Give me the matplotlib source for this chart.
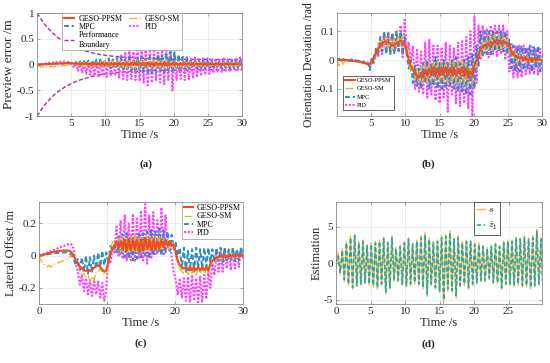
import numpy as np
import matplotlib
matplotlib.use("Agg")
import matplotlib.pyplot as plt

plt.rcParams['font.family'] = ['Liberation Serif', 'DejaVu Serif']
plt.rcParams['mathtext.fontset'] = 'cm'
plt.rcParams['axes.unicode_minus'] = False

# ---------------- data ----------------
t = np.linspace(0, 30, 101)  # sample times (0.3 s grid)

# panel (a) preview error
pb_t = [0, 1, 2, 3, 4, 5, 6, 7, 8, 9, 10, 12, 14, 17, 20, 25, 30]
pb_up = [1.0, 0.8, 0.65, 0.53, 0.44, 0.37, 0.31, 0.27, 0.23, 0.2, 0.18, 0.15, 0.13, 0.115, 0.105, 0.1, 0.1]
pb_lo = [-1.0, -0.8, -0.65, -0.53, -0.44, -0.37, -0.31, -0.27, -0.23, -0.2, -0.18, -0.15, -0.13, -0.115, -0.105, -0.1, -0.1]

a_ppsm = [0.0, 0.002, 0.004, 0.006, 0.008, 0.01, 0.012, 0.014, 0.016, 0.018,
          0.02, 0.022, 0.024, 0.026, 0.027, 0.028, 0.028, 0.026, 0.022, 0.018,
          0.025, 0.005, 0.03, 0.005, 0.03, 0.0, 0.03, 0.0, 0.028, 0.0,
          0.03, 0.0, 0.03, -0.005, 0.03, -0.005, 0.03, 0.0, 0.03, 0.0,
          0.03, -0.005, 0.035, -0.005, 0.035, -0.01, 0.03, -0.005, 0.035, -0.005,
          0.035, -0.01, 0.03, -0.01, 0.035, -0.005, 0.03, -0.01, 0.035, -0.005,
          0.035, -0.01, 0.04, -0.01, 0.035, -0.005, 0.03, -0.005, 0.03, 0.0,
          0.03, 0.0, 0.025, 0.0, 0.028, 0.0, 0.025, 0.0, 0.025, 0.0,
          0.025, 0.0, 0.022, 0.002, 0.022, 0.002, 0.02, 0.002, 0.02, 0.002,
          0.02, 0.002, 0.02, 0.002, 0.02, 0.002, 0.02, 0.002, 0.02, 0.002,
          0.015]
a_sm = [0.0, -0.03, -0.05, -0.04, -0.06, -0.04, -0.05, -0.03, -0.05, -0.03,
        -0.04, -0.02, -0.03, -0.01, -0.02, 0.0, 0.0, 0.02, 0.0, 0.03,
        -0.02, 0.04, -0.03, 0.05, -0.03, 0.05, -0.04, 0.05, -0.04, 0.06,
        -0.04, 0.06, -0.05, 0.07, -0.05, 0.06, -0.06, 0.07, -0.06, 0.08,
        -0.07, 0.08, -0.06, 0.09, -0.07, 0.08, -0.07, 0.1, -0.08, 0.09,
        -0.08, 0.1, -0.07, 0.09, -0.08, 0.1, -0.07, 0.09, -0.08, 0.1,
        -0.07, 0.09, -0.08, 0.1, -0.07, 0.08, -0.06, 0.07, -0.06, 0.07,
        -0.05, 0.06, -0.05, 0.06, -0.05, 0.05, -0.04, 0.05, -0.04, 0.05,
        -0.04, 0.05, -0.04, 0.05, -0.04, 0.04, -0.03, 0.04, -0.03, 0.04,
        -0.03, 0.04, -0.03, 0.04, -0.03, 0.04, -0.03, 0.04, -0.03, 0.04,
        -0.02]
a_mpc = [0.0, 0.0, 0.005, 0.01, 0.01, 0.015, 0.02, 0.02, 0.02, 0.02,
         0.02, 0.02, 0.02, 0.02, 0.02, 0.02, 0.025, 0.03, 0.0, 0.05,
         0.0, 0.06, -0.01, 0.07, -0.01, 0.08, -0.02, 0.08, -0.03, 0.1,
         -0.04, 0.12, -0.05, 0.1, -0.06, 0.12, -0.07, 0.1, -0.08, 0.12,
         -0.09, 0.14, -0.12, 0.1, -0.1, 0.15, -0.12, 0.12, -0.1, 0.14,
         -0.12, 0.16, -0.14, 0.12, -0.16, 0.15, -0.17, 0.14, -0.15, 0.2,
         -0.13, 0.18, -0.15, 0.22, -0.12, 0.25, -0.14, 0.24, -0.1, 0.2,
         -0.1, 0.15, -0.08, 0.1, -0.08, 0.1, -0.07, 0.09, -0.07, 0.08,
         -0.07, 0.08, -0.06, 0.08, -0.07, 0.07, -0.06, 0.07, -0.06, 0.07,
         -0.07, 0.08, -0.06, 0.07, -0.07, 0.08, -0.06, 0.07, -0.06, 0.08,
         -0.05]
a_pid = [0.0, 0.005, 0.01, 0.015, 0.02, 0.025, 0.03, 0.035, 0.04, 0.045,
         0.05, 0.055, 0.06, 0.06, 0.06, 0.05, 0.04, 0.0, -0.06, 0.03,
         -0.12, 0.04, -0.15, 0.05, -0.18, 0.04, -0.2, 0.05, -0.22, 0.06,
         -0.25, 0.05, -0.22, 0.08, -0.24, 0.1, -0.2, 0.1, -0.22, 0.15,
         -0.25, 0.2, -0.28, 0.25, -0.3, 0.3, -0.28, 0.25, -0.3, 0.28,
         -0.32, 0.3, -0.35, 0.32, -0.4, 0.3, -0.35, 0.3, -0.3, 0.3,
         -0.35, 0.32, -0.38, 0.35, -0.3, 0.45, -0.5, 0.2, -0.3, 0.15,
         -0.28, 0.15, -0.3, 0.15, -0.28, 0.12, -0.25, 0.14, -0.25, 0.12,
         -0.22, 0.12, -0.2, 0.12, -0.18, 0.1, -0.16, 0.12, -0.15, 0.1,
         -0.14, 0.12, -0.12, 0.1, -0.12, 0.12, -0.1, 0.12, -0.1, 0.14,
         -0.08]

# panel (b) orientation deviation
b_ppsm = [0.0, 0.0, 0.0, 0.0, 0.0, 0.0, -0.002, -0.002, -0.003, -0.004,
          -0.005, -0.006, -0.008, -0.01, -0.012, -0.014, -0.015, -0.01, 0.01, 0.025,
          0.04, 0.05, 0.058, 0.063, 0.065, 0.06, 0.055, 0.05, 0.052, 0.058,
          0.063, 0.066, 0.064, 0.055, 0.03, 0.0, -0.02, -0.035, -0.045, -0.055,
          -0.06, -0.045, -0.06, -0.035, -0.055, -0.03, -0.05, -0.025, -0.055, -0.03,
          -0.055, -0.025, -0.05, -0.025, -0.055, -0.03, -0.05, -0.025, -0.055, -0.03,
          -0.05, -0.025, -0.055, -0.03, -0.06, -0.04, -0.055, -0.02, 0.0, 0.02,
          0.035, 0.045, 0.05, 0.058, 0.052, 0.062, 0.055, 0.065, 0.056, 0.066,
          0.056, 0.066, 0.06, 0.058, 0.045, 0.03, 0.02, 0.012, 0.01, 0.005,
          0.01, 0.0, 0.008, -0.002, 0.006, -0.002, 0.005, -0.002, 0.004, 0.0,
          0.0]
b_sm = [0.0, -0.02, 0.0, -0.015, 0.0, -0.005, 0.0, -0.005, -0.002, -0.005,
        -0.005, -0.008, -0.01, -0.01, -0.012, -0.015, -0.02, -0.01, 0.02, 0.01,
        0.06, 0.03, 0.08, 0.04, 0.085, 0.04, 0.08, 0.03, 0.08, 0.04,
        0.09, 0.05, 0.085, 0.04, 0.05, -0.01, -0.04, -0.02, -0.07, -0.03,
        -0.08, -0.02, -0.085, -0.01, -0.08, -0.005, -0.075, 0.0, -0.08, -0.005,
        -0.08, 0.0, -0.075, -0.005, -0.085, 0.0, -0.08, 0.0, -0.085, 0.0,
        -0.08, 0.0, -0.085, -0.01, -0.09, -0.02, -0.08, 0.0, -0.02, 0.04,
        0.01, 0.07, 0.03, 0.08, 0.035, 0.09, 0.035, 0.09, 0.04, 0.09,
        0.035, 0.09, 0.04, 0.08, 0.02, 0.05, 0.0, 0.03, -0.01, 0.02,
        -0.01, 0.02, -0.01, 0.015, -0.01, 0.015, -0.008, 0.012, -0.008, 0.01,
        0.0]
b_mpc = [0.0, 0.005, -0.002, 0.004, -0.002, 0.003, -0.003, 0.002, -0.004, 0.0,
         -0.005, 0.0, -0.008, -0.005, -0.012, -0.008, -0.035, 0.01, -0.01, 0.04,
         0.02, 0.08, 0.03, 0.1, 0.02, 0.09, 0.02, 0.095, 0.02, 0.1,
         0.03, 0.1, 0.02, 0.08, 0.02, -0.03, 0.0, -0.08, -0.02, -0.09,
         -0.03, -0.1, -0.01, -0.08, 0.0, -0.1, -0.01, -0.09, 0.01, -0.1,
         -0.01, -0.1, 0.0, -0.1, -0.01, -0.09, 0.0, -0.1, 0.01, -0.11,
         -0.01, -0.11, 0.0, -0.12, 0.01, -0.12, 0.02, -0.1, 0.05, -0.02,
         0.1, 0.01, 0.1, 0.02, 0.1, 0.02, 0.1, 0.03, 0.1, 0.03,
         0.1, 0.03, 0.1, 0.02, 0.07, -0.03, 0.05, -0.04, 0.05, -0.04,
         0.05, -0.035, 0.045, -0.03, 0.05, -0.04, 0.045, -0.03, 0.05, -0.04,
         0.0]
b_pid = [0.0, 0.002, 0.0, 0.002, 0.0, 0.001, -0.002, 0.0, -0.003, -0.002,
         -0.005, -0.004, -0.007, -0.008, -0.01, -0.012, -0.014, 0.0, 0.0, 0.035,
         0.01, 0.07, 0.02, 0.09, 0.03, 0.095, 0.03, 0.09, 0.04, 0.1,
         0.03, 0.12, 0.01, 0.14, 0.02, 0.06, -0.01, 0.05, -0.1, 0.04,
         -0.11, 0.03, -0.12, 0.06, -0.13, 0.07, -0.12, 0.05, -0.14, 0.05,
         -0.15, 0.04, -0.13, 0.06, -0.18, 0.05, -0.12, 0.04, -0.15, 0.06,
         -0.16, 0.07, -0.15, 0.08, -0.17, 0.1, -0.195, 0.15, -0.08, 0.12,
         0.0, 0.12, 0.02, 0.11, 0.01, 0.12, 0.02, 0.12, 0.01, 0.12,
         0.02, 0.12, 0.0, 0.1, -0.04, 0.06, -0.06, 0.05, -0.06, 0.05,
         -0.06, 0.05, -0.05, 0.04, -0.05, 0.045, -0.05, 0.04, -0.05, 0.045,
         -0.04]

# panel (c) lateral offset
c_ppsm = [0.0, 0.002, 0.005, 0.008, 0.012, 0.016, 0.02, 0.023, 0.026, 0.028,
          0.03, 0.031, 0.032, 0.032, 0.032, 0.03, 0.02, 0.0, -0.03, -0.05,
          -0.065, -0.08, -0.09, -0.095, -0.09, -0.095, -0.085, -0.075, -0.065, -0.06,
          -0.07, -0.085, -0.1, -0.09, -0.04, 0.01, 0.04, 0.06, 0.09, 0.04,
          0.09, 0.04, 0.1, 0.03, 0.1, 0.03, 0.1, 0.04, 0.1, 0.03,
          0.1, 0.03, 0.11, 0.04, 0.1, 0.03, 0.1, 0.04, 0.09, 0.04,
          0.1, 0.05, 0.1, 0.06, 0.09, 0.06, 0.07, 0.02, -0.03, -0.06,
          -0.07, -0.08, -0.07, -0.09, -0.07, -0.09, -0.07, -0.09, -0.07, -0.09,
          -0.07, -0.09, -0.07, -0.09, -0.05, -0.03, -0.02, -0.01, -0.01, 0.0,
          -0.01, 0.005, -0.01, 0.005, -0.005, 0.005, -0.005, 0.005, -0.005, 0.005,
          0.0]
c_sm = [0.0, -0.03, -0.05, -0.06, -0.07, -0.06, -0.07, -0.06, -0.05, -0.045,
        -0.04, -0.035, -0.03, -0.025, -0.02, -0.01, 0.0, 0.01, -0.02, -0.06,
        -0.09, -0.12, -0.11, -0.14, -0.12, -0.16, -0.13, -0.15, -0.1, -0.1,
        -0.08, -0.1, -0.12, -0.11, -0.02, 0.05, 0.08, 0.1, 0.06, 0.12,
        0.02, 0.12, 0.03, 0.11, 0.02, 0.13, 0.03, 0.12, 0.02, 0.12,
        0.03, 0.11, 0.02, 0.12, 0.03, 0.11, 0.04, 0.12, 0.03, 0.12,
        0.04, 0.11, 0.05, 0.1, 0.04, 0.09, 0.06, 0.0, -0.05, -0.08,
        -0.1, -0.11, -0.09, -0.12, -0.08, -0.11, -0.08, -0.12, -0.08, -0.11,
        -0.08, -0.12, -0.08, -0.11, -0.06, -0.04, -0.03, 0.0, -0.02, 0.01,
        -0.02, 0.01, -0.02, 0.015, -0.015, 0.015, -0.015, 0.01, -0.015, 0.01,
        0.0]
c_mpc = [0.0, 0.002, 0.004, 0.006, 0.008, 0.01, 0.012, 0.014, 0.015, 0.016,
         0.017, 0.018, 0.02, 0.02, 0.02, 0.015, 0.0, -0.02, -0.06, -0.02,
         -0.09, -0.01, -0.1, 0.0, -0.11, -0.01, -0.1, 0.0, -0.08, 0.02,
         -0.07, 0.03, -0.06, 0.02, -0.05, 0.06, 0.03, 0.08, 0.02, 0.12,
         0.0, 0.13, -0.01, 0.14, -0.02, 0.13, -0.03, 0.12, -0.02, 0.15,
         -0.01, 0.14, 0.0, 0.15, -0.02, 0.16, 0.0, 0.15, 0.01, 0.17,
         0.0, 0.16, 0.02, 0.15, 0.03, 0.13, 0.04, 0.08, 0.0, 0.05,
         -0.08, 0.05, -0.1, 0.03, -0.09, 0.04, -0.1, 0.05, -0.08, 0.04,
         -0.08, 0.05, -0.07, 0.05, -0.04, 0.04, -0.04, 0.05, -0.03, 0.05,
         -0.04, 0.05, -0.04, 0.04, -0.03, 0.05, -0.03, 0.04, -0.03, 0.05,
         0.0]
c_pid = [0.0, 0.005, 0.01, 0.015, 0.02, 0.025, 0.03, 0.035, 0.04, 0.045,
         0.05, 0.055, 0.06, 0.065, 0.07, 0.075, 0.07, 0.04, -0.04, -0.1,
         -0.18, -0.12, -0.22, -0.14, -0.24, -0.15, -0.25, -0.15, -0.24, -0.16,
         -0.26, -0.17, -0.28, -0.2, -0.02, -0.05, 0.05, 0.02, 0.18, 0.0,
         0.22, -0.02, 0.25, -0.03, 0.2, -0.03, 0.26, -0.04, 0.24, -0.02,
         0.28, -0.03, 0.32, -0.05, 0.25, -0.02, 0.27, 0.0, 0.22, 0.02,
         0.3, 0.0, 0.25, 0.05, 0.08, 0.0, -0.1, -0.15, -0.24, -0.14,
         -0.26, -0.14, -0.28, -0.13, -0.29, -0.12, -0.28, -0.14, -0.3, -0.13,
         -0.29, -0.12, -0.27, -0.1, -0.2, -0.05, -0.12, 0.02, -0.1, 0.03,
         -0.1, 0.04, -0.08, 0.03, -0.09, 0.04, -0.08, 0.03, -0.07, 0.05,
         -0.02]

# panel (d) estimation
d_s = [0.0, 1.5, -1.5, 2.0, -2.5, 3.0, -3.0, 3.8, -3.5, 4.0,
       -3.2, 3.0, -3.0, 3.2, -2.8, 2.6, -3.0, 2.8, -3.2, 3.0,
       -3.5, 3.2, -3.0, 3.6, -4.2, 3.0, -3.5, 3.8, -2.5, 2.2,
       -2.5, 2.5, -3.0, 3.0, -3.2, 3.5, -3.0, 2.8, -2.8, 3.2,
       -3.0, 3.8, -3.5, 4.2, -4.5, 3.5, -3.0, 3.0, -3.5, 3.2,
       -4.0, 3.8, -5.5, 4.0, -3.8, 4.5, -4.0, 3.5, -4.8, 3.8,
       -3.2, 3.0, -3.0, 3.2, -3.5, 3.2, -3.0, 2.8, -2.8, 2.8,
       -2.5, 2.5, -2.5, 2.2, -2.2, 2.5, -2.8, 2.8, -2.8, 2.5,
       -3.5, 3.0, -3.0, 3.2, -3.0, 3.2, -3.2, 3.6, -3.0, 3.5,
       -3.2, 3.8, -3.2, 3.5, -3.5, 3.8, -3.2, 4.7, -3.0, 3.5,
       -4.5]
d_z1 = [0.0, 1.0, -1.2, 1.8, -2.2, 2.8, -2.8, 3.5, -3.3, 3.8,
        -3.0, 2.8, -2.8, 3.0, -2.6, 2.4, -2.8, 2.6, -3.0, 2.8,
        -3.3, 3.0, -2.8, 3.4, -3.9, 2.8, -3.3, 3.5, -2.3, 2.0,
        -2.3, 2.3, -2.8, 2.8, -3.0, 3.3, -2.8, 2.6, -2.6, 3.0,
        -2.8, 3.5, -3.3, 3.9, -4.2, 3.3, -2.8, 2.8, -3.3, 3.0,
        -3.7, 3.5, -5.0, 3.7, -3.5, 4.2, -3.7, 3.3, -4.4, 3.5,
        -3.0, 2.8, -2.8, 3.0, -3.3, 3.0, -2.8, 2.6, -2.6, 2.6,
        -2.3, 2.3, -2.3, 2.0, -2.0, 2.3, -2.6, 2.6, -2.6, 2.3,
        -3.3, 2.8, -2.8, 3.0, -2.8, 3.0, -3.0, 3.4, -2.8, 3.3,
        -3.0, 3.5, -3.0, 3.3, -3.3, 3.5, -3.0, 4.4, -2.8, 3.3,
        -4.2]

labels = ['GESO-PPSM', 'GESO-SM', 'MPC', 'PID']

# ---------------- styles ----------------
C_PPSM = '#f24a1d'
C_SM = '#f2b01e'
C_MPC = '#2a8cc8'
C_PID = '#ff40ff'
C_PB = '#a4339f'
SPINE = '#8a8a8a'
TXT = '#262626'

fig = plt.figure(figsize=(5.5, 3.63), dpi=100)

def style(ax):
    for s in ax.spines.values():
        s.set_color(SPINE)
        s.set_linewidth(0.6)
    ax.tick_params(direction='in', length=2, width=0.5, colors=SPINE,
                   labelcolor=TXT, labelsize=8, top=True, right=True, pad=2)
    ax.grid(True, color='#e4e4e4', linewidth=0.5, linestyle='-')
    ax.set_axisbelow(True)

def draw4(ax, ppsm, sm, mpc, pid):
    hp, = ax.plot(t, pid, color=C_PID, lw=1.5, ls=(0, (1, 0.8)))
    hm, = ax.plot(t, mpc, color=C_MPC, lw=1.4, ls=(0, (2.5, 1.5)))
    hs, = ax.plot(t, sm, color=C_SM, lw=0.9, ls='-.')
    hr, = ax.plot(t, ppsm, color=C_PPSM, lw=1.5, ls='-')
    return hr, hs, hm, hp

# (a)
axa = fig.add_axes([0.0673, 0.680, 0.373, 0.284])
style(axa)
hb, = axa.plot(pb_t, pb_up, color=C_PB, lw=1.0, ls=(0, (3, 1.5)))
axa.plot(pb_t, pb_lo, color=C_PB, lw=1.0, ls=(0, (3, 1.5)))
hr, hs, hm, hp = draw4(axa, a_ppsm, a_sm, a_mpc, a_pid)
axa.set_xlim(0, 30)
axa.set_ylim(-1, 1)
axa.set_xticks([5, 10, 15, 20, 25, 30])
axa.set_yticks([-1, -0.5, 0, 0.5, 1])
axa.set_yticklabels(['-1', '-0.5', '0', '0.5', '1'])
axa.set_xlabel('Time /s', fontsize=9, color=TXT, labelpad=1)
axa.set_ylabel('Preview error /m', fontsize=9.5, color=TXT, labelpad=1)
la = axa.legend([hr, hm, hb, hs, hp],
                ['GESO-PPSM', 'MPC', 'Performance\nBoundary', 'GESO-SM', 'PID'],
                ncol=2, loc='upper left', bbox_to_anchor=(0.122, 1.0),
                borderaxespad=0, fontsize=5.8, handlelength=1.3, labelspacing=0.05,
                borderpad=0.2, columnspacing=0.8, handletextpad=0.6,
                fancybox=False, framealpha=1, edgecolor='#9a9a9a')
la.get_frame().set_linewidth(0.5)

# (b)
axb = fig.add_axes([0.6127, 0.680, 0.373, 0.284])
style(axb)
hr, hs, hm, hp = draw4(axb, b_ppsm, b_sm, b_mpc, b_pid)
axb.set_xlim(0, 30)
axb.set_ylim(-0.195, 0.163)
axb.set_xticks([5, 10, 15, 20, 25, 30])
axb.set_yticks([-0.1, 0, 0.1])
axb.set_yticklabels(['-0.1', '0', '0.1'])
axb.set_xlabel('Time /s', fontsize=9, color=TXT, labelpad=1)
axb.set_ylabel('Orientation Deviation /rad', fontsize=8.5, color=TXT, labelpad=1)
lb = axb.legend([hr, hs, hm, hp], labels, loc='lower left',
                bbox_to_anchor=(0.028, 0.058), borderaxespad=0, fontsize=4.5,
                handlelength=1.6, labelspacing=0.5, borderpad=0.3,
                handletextpad=0.4, fancybox=False, framealpha=1, edgecolor='#222222')
lb.get_frame().set_linewidth(0.5)

# (c)
axc = fig.add_axes([0.0709, 0.1625, 0.371, 0.281])
style(axc)
hr, hs, hm, hp = draw4(axc, c_ppsm, c_sm, c_mpc, c_pid)
axc.set_xlim(0, 30)
axc.set_ylim(-0.3, 0.333)
axc.set_xticks([0, 10, 20, 30])
axc.set_yticks([-0.2, 0, 0.2])
axc.set_yticklabels(['-0.2', '0', '0.2'])
axc.set_xlabel('Time /s', fontsize=9, color=TXT, labelpad=1)
axc.set_ylabel('Lateral Offset /m', fontsize=9, color=TXT, labelpad=1)
lc = axc.legend([hr, hs, hm, hp], labels, loc='upper right', borderaxespad=0,
                fontsize=5.8, handlelength=1.1, labelspacing=0.05, borderpad=0.25,
                handletextpad=0.5, fancybox=False, framealpha=1, edgecolor='#9a9a9a')
lc.get_frame().set_linewidth(0.5)

# (d)
axd = fig.add_axes([0.611, 0.1625, 0.3745, 0.281])
style(axd)
h1, = axd.plot(t, d_s, color='#f7b24a', lw=1.0, ls='-')
h2, = axd.plot(t, d_z1, color='#2aa89a', lw=1.2, ls=(0, (2.5, 1.5)))
axd.set_xlim(0, 29.85)
axd.set_ylim(-5.55, 8.4)
axd.set_xticks([0, 5, 10, 15, 20, 25])
axd.set_yticks([-5, 0, 5])
axd.set_yticklabels(['-5', '0', '5'])
axd.set_xlabel('Time /s', fontsize=9, color=TXT, labelpad=1)
axd.set_ylabel('Estimation', fontsize=9, color=TXT, labelpad=1)
ld = axd.legend([h1, h2], ['$s$', r'$\hat{z}_1$'], loc='upper left',
                bbox_to_anchor=(0.67, 1.0), borderaxespad=0, fontsize=7,
                handlelength=0.8, handletextpad=0.3, labelspacing=0.6,
                borderpad=0.3, fancybox=False, framealpha=1, edgecolor='#222222')
ld.get_frame().set_linewidth(0.5)

for txt, x, y in [('(a)', 146, 164), ('(b)', 428, 164), ('(c)', 141, 343), ('(d)', 428, 344)]:
    fig.text(x / 550, 1 - y / 363, txt, ha='center', va='center', fontsize=8,
             fontweight='bold', color=TXT)

fig.savefig('out.png', dpi=100)
